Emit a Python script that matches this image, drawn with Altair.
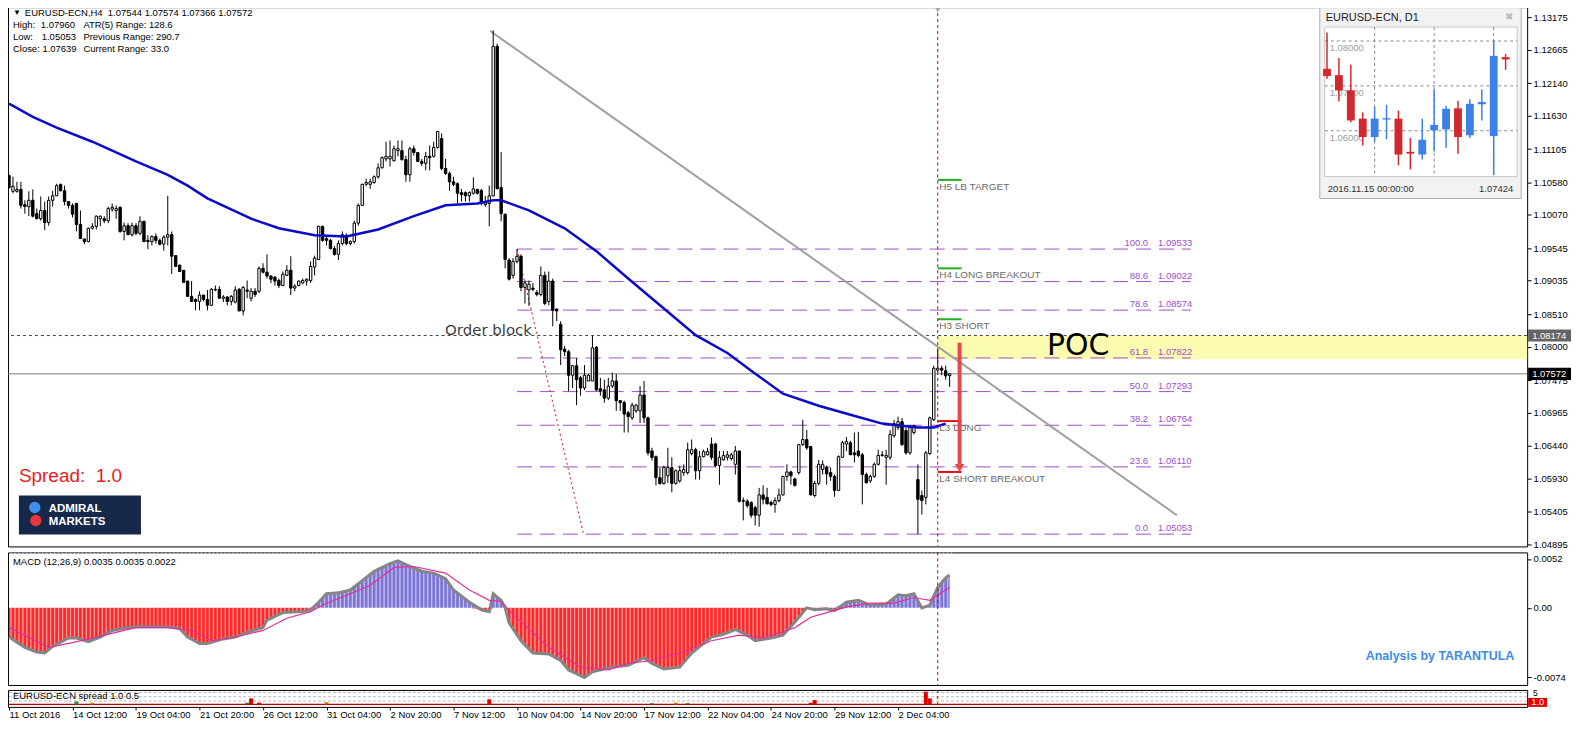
import altair as alt
import pandas as pd

FONT = "Liberation Sans"
NB = "\u00a0"

# ---------------- data ----------------
bar_open = [
1.1069,1.1044,1.1044,1.1047,1.1023,1.1020,1.1030,1.1009,1.1001,1.1014,
1.0995,1.1030,1.1037,1.1055,1.1045,1.1028,1.1022,1.1025,1.0992,1.0969,
1.0965,1.0986,1.0989,1.1001,1.1001,1.0998,1.1016,1.1014,1.1019,1.0981,
1.0990,1.0976,1.0990,1.0978,1.0997,1.0967,1.0965,1.0973,1.0967,1.0961,
1.0972,1.0976,1.0943,1.0928,1.0920,1.0903,1.0879,1.0874,1.0871,1.0881,
1.0874,1.0865,1.0889,1.0890,1.0876,1.0878,1.0871,1.0870,1.0890,1.0856,
1.0889,1.0876,1.0887,1.0887,1.0923,1.0917,1.0911,1.0909,1.0904,1.0896,
1.0912,1.0920,1.0892,1.0896,1.0900,1.0903,1.0904,1.0925,1.0937,1.0989,
1.0970,1.0967,1.0954,1.0945,1.0962,1.0975,1.0962,1.0965,1.0994,1.1022,
1.1055,1.1055,1.1058,1.1067,1.1081,1.1095,1.1095,1.1092,1.1108,1.1108,
1.1094,1.1070,1.1111,1.1105,1.1091,1.1088,1.1099,1.1099,1.1113,1.1127,
1.1080,1.1072,1.1059,1.1056,1.1042,1.1042,1.1037,1.1041,1.1047,1.1045,
1.1023,1.1025,1.1037,1.1272,1.1050,1.1008,1.0936,1.0912,1.0934,1.0942,
1.0893,1.0889,1.0892,1.0885,1.0882,1.0912,1.0871,1.0903,1.0859,1.0835,
1.0796,1.0792,1.0755,1.0770,1.0751,1.0735,1.0746,1.0746,1.0799,1.0734,
1.0732,1.0719,1.0738,1.0746,1.0715,1.0712,1.0696,1.0688,1.0699,1.0699,
1.0724,1.0688,1.0636,1.0627,1.0594,1.0585,1.0597,1.0610,1.0585,1.0589,
1.0602,1.0602,1.0632,1.0638,1.0605,1.0627,1.0630,1.0647,1.0647,1.0613,
1.0622,1.0626,1.0624,1.0615,1.0636,1.0558,1.0557,1.0555,1.0547,1.0535,
1.0567,1.0563,1.0555,1.0552,1.0558,1.0567,1.0596,1.0603,1.0592,1.0602,
1.0646,1.0654,1.0643,1.0566,1.0585,1.0607,1.0610,1.0602,1.0596,1.0574,
1.0626,1.0647,1.0649,1.0633,1.0636,1.0630,1.0599,1.0589,1.0596,1.0615,
1.0629,1.0626,1.0626,1.0660,1.0673,1.0682,1.0668,1.0633,1.0665,1.0591,
1.0566,1.0563,1.0632,1.0685,1.0763,1.0766,1.0762,1.07544]
bar_high = [
1.1070,1.1067,1.1059,1.1059,1.1030,1.1044,1.1047,1.1017,1.1036,1.1028,
1.1036,1.1045,1.1056,1.1056,1.1053,1.1028,1.1025,1.1026,1.1014,1.0970,
1.0987,1.0994,1.1006,1.1006,1.1005,1.1020,1.1025,1.1022,1.1020,1.0995,
1.0994,1.0995,1.0994,1.1005,1.0997,1.0975,1.0975,1.0978,1.0970,1.0975,
1.1037,1.0981,1.0943,1.0929,1.0920,1.0903,1.0903,1.0876,1.0887,1.0881,
1.0889,1.0892,1.0896,1.0895,1.0881,1.0879,1.0881,1.0895,1.0892,1.0895,
1.0904,1.0892,1.0892,1.0926,1.0931,1.0945,1.0912,1.0911,1.0907,1.0918,
1.0928,1.0942,1.0898,1.0904,1.0907,1.0907,1.0934,1.0943,1.0990,1.0990,
1.0972,1.0969,1.0958,1.0967,1.0981,1.0978,1.0967,1.0998,1.1025,1.1056,
1.1064,1.1064,1.1069,1.1088,1.1099,1.1122,1.1124,1.1116,1.1124,1.1124,
1.1100,1.1114,1.1116,1.1106,1.1095,1.1106,1.1116,1.1122,1.1139,1.1135,
1.1095,1.1075,1.1067,1.1058,1.1048,1.1044,1.1044,1.1066,1.1048,1.1048,
1.1037,1.1053,1.1297,1.1276,1.1106,1.1009,1.0939,1.0939,1.09533,1.0945,
1.0904,1.0904,1.0900,1.0889,1.0926,1.0918,1.0918,1.0907,1.0860,1.0840,
1.0801,1.0795,1.0771,1.0782,1.0754,1.0771,1.0757,1.0817,1.0801,1.0751,
1.0748,1.0751,1.0759,1.0757,1.0716,1.0715,1.0699,1.0712,1.0710,1.0738,
1.0746,1.0690,1.0641,1.0629,1.0610,1.0613,1.0641,1.0626,1.0607,1.0613,
1.0615,1.0649,1.0654,1.0641,1.0636,1.0638,1.0641,1.0657,1.0649,1.0636,
1.0636,1.0636,1.0633,1.0644,1.0636,1.0563,1.0560,1.0557,1.0550,1.0578,
1.0582,1.0578,1.0558,1.0563,1.0577,1.0597,1.0615,1.0605,1.0594,1.0647,
1.0685,1.0669,1.0644,1.0589,1.0622,1.0621,1.0613,1.0610,1.0599,1.0629,
1.0652,1.0658,1.0652,1.0665,1.0666,1.0633,1.0602,1.0599,1.0618,1.0638,
1.0636,1.0638,1.0669,1.0685,1.0690,1.0688,1.0673,1.0677,1.0677,1.0615,
1.0574,1.0636,1.0690,1.0770,1.0796,1.0770,1.0770,1.07574]
bar_low = [
1.1048,1.1041,1.1042,1.1017,1.1009,1.1005,1.1003,1.1000,1.0998,1.0983,
1.0990,1.1020,1.1037,1.1044,1.1022,1.1017,1.1003,1.0981,1.0969,1.0961,
1.0964,1.0984,1.0984,1.0989,1.0994,1.0994,1.1012,1.1001,1.0979,1.0967,
1.0975,1.0973,1.0975,1.0975,1.0965,1.0953,1.0959,1.0962,1.0959,1.0951,
1.0959,1.0914,1.0926,1.0918,1.0900,1.0878,1.0870,1.0857,1.0857,1.0871,
1.0857,1.0864,1.0887,1.0876,1.0870,1.0865,1.0865,1.0868,1.0856,1.0849,
1.0876,1.0871,1.0878,1.0884,1.0915,1.0907,1.0900,1.0896,1.0892,1.0895,
1.0911,1.0881,1.0887,1.0895,1.0898,1.0896,1.0900,1.0912,1.0937,1.0965,
1.0959,1.0953,1.0943,1.0936,1.0959,1.0959,1.0959,1.0962,1.0990,1.1022,
1.1052,1.1048,1.1056,1.1064,1.1080,1.1091,1.1083,1.1091,1.1099,1.1092,
1.1059,1.1059,1.1100,1.1091,1.1084,1.1077,1.1077,1.1097,1.1111,1.1077,
1.1070,1.1045,1.1052,1.1025,1.1028,1.1028,1.1028,1.1039,1.1039,1.1022,
1.1020,1.0989,1.1036,1.1048,1.0997,1.0923,1.0904,1.0907,1.0931,1.0887,
1.0868,1.0864,1.0887,1.0879,1.0879,1.0865,1.0865,1.0832,1.0840,1.0771,
1.0785,1.0730,1.0735,1.0708,1.0723,1.0732,1.0746,1.0746,1.0730,1.0723,
1.0712,1.0716,1.0735,1.0699,1.0699,1.0665,1.0665,1.0685,1.0696,1.0680,
1.0680,1.0629,1.0621,1.0582,1.0583,1.0583,1.0586,1.0571,1.0583,1.0586,
1.0597,1.0599,1.0629,1.0591,1.0591,1.0626,1.0629,1.0622,1.0610,1.0583,
1.0621,1.0621,1.0621,1.0599,1.0555,1.0527,1.0547,1.0531,1.0519,1.0517,
1.0552,1.0552,1.0549,1.0539,1.0555,1.0566,1.0589,1.0583,1.0580,1.0599,
1.0644,1.0638,1.0566,1.0563,1.0582,1.0599,1.0583,1.0589,1.0564,1.0574,
1.0626,1.0636,1.0630,1.0618,1.0626,1.0552,1.0585,1.0586,1.0594,1.0613,
1.0627,1.0583,1.0622,1.0657,1.0669,1.0644,1.0630,1.0630,1.0662,1.05053,
1.0536,1.0552,1.0630,1.0683,1.0759,1.0755,1.0748,1.07366]
bar_close = [
1.1050,1.1052,1.1047,1.1022,1.1020,1.1030,1.1005,1.1001,1.1014,1.0995,
1.1030,1.1037,1.1053,1.1045,1.1028,1.1022,1.1008,1.0992,1.0970,1.0965,
1.0986,1.0989,1.1005,1.1005,1.0998,1.1017,1.1019,1.1017,1.0981,1.0990,
1.0976,1.0990,1.0978,1.0997,1.0965,1.0965,1.0973,1.0967,1.0961,1.0972,
1.0976,1.0942,1.0926,1.0918,1.0901,1.0879,1.0871,1.0871,1.0881,1.0874,
1.0865,1.0890,1.0890,1.0876,1.0878,1.0871,1.0879,1.0889,1.0856,1.0893,
1.0887,1.0887,1.0882,1.0923,1.0917,1.0911,1.0906,1.0903,1.0896,1.0914,
1.0920,1.0892,1.0895,1.0903,1.0904,1.0906,1.0926,1.0939,1.0989,1.0967,
1.0967,1.0954,1.0945,1.0962,1.0976,1.0962,1.0965,1.0994,1.1022,1.1055,
1.1058,1.1059,1.1067,1.1081,1.1097,1.1099,1.1099,1.1111,1.1111,1.1094,
1.1070,1.1111,1.1105,1.1091,1.1088,1.1099,1.1097,1.1113,1.1138,1.1080,
1.1072,1.1059,1.1055,1.1041,1.1039,1.1037,1.1042,1.1048,1.1041,1.1025,
1.1026,1.1037,1.1272,1.1048,1.1009,1.0937,1.0906,1.0934,1.0942,1.0893,
1.0900,1.0898,1.0890,1.0882,1.0912,1.0868,1.0903,1.0857,1.0856,1.0795,
1.0792,1.0755,1.0770,1.0748,1.0735,1.0755,1.0755,1.0798,1.0732,1.0730,
1.0719,1.0738,1.0746,1.0715,1.0712,1.0694,1.0690,1.0708,1.0708,1.0724,
1.0688,1.0633,1.0626,1.0594,1.0585,1.0610,1.0610,1.0585,1.0605,1.0605,
1.0607,1.0638,1.0638,1.0605,1.0627,1.0635,1.0635,1.0626,1.0613,1.0626,
1.0629,1.0630,1.0630,1.0636,1.0557,1.0557,1.0550,1.0535,1.0535,1.0567,
1.0560,1.0553,1.0552,1.0558,1.0567,1.0596,1.0603,1.0597,1.0582,1.0646,
1.0654,1.0641,1.0567,1.0585,1.0615,1.0615,1.0600,1.0596,1.0574,1.0627,
1.0649,1.0651,1.0630,1.0630,1.0629,1.0599,1.0586,1.0596,1.0615,1.0629,
1.0630,1.0629,1.0662,1.0679,1.0682,1.0646,1.0633,1.0673,1.0676,1.0560,
1.0558,1.0633,1.0688,1.0766,1.0766,1.0763,1.0754,1.07572]

ema_bar = [0,6,12,21,32,40,45,50,61,68,77,85,93,102,110,118,122,124,131,140,148,156,165,173,181,187,195,204,212,220,229,233,236]
ema_val = [1.1182,1.1161,1.1144,1.1122,1.1091,1.1070,1.1053,1.1033,1.1001,1.0986,1.0975,1.0973,1.0984,1.1005,1.1022,1.1025,1.1030,1.1030,1.1014,1.0986,1.0950,1.0907,1.0860,1.0818,1.0790,1.0762,1.0726,1.0707,1.0693,1.0679,1.0673,1.0673,1.0679]

price_ticks = [1.13175,1.12665,1.12140,1.11630,1.11105,1.10580,1.10070,1.09545,1.09035,1.08510,1.08000,1.07475,1.06965,1.06440,1.05930,1.05405,1.04895]

fib_pct = ["100.0","88.6","78.6","61.8","50.0","38.2","23.6","0.0"]
fib_price = [1.09533,1.09022,1.08574,1.07822,1.07293,1.06764,1.06110,1.05053]
fib_from_bar, fib_to_bar = 128, 297.75

pivot_name = ["H5 LB TARGET","H4 LONG BREAKOUT","H3 SHORT","L3 LONG","L4 SHORT BREAKOUT"]
pivot_price = [1.1062,1.0923,1.0843,1.0683,1.0603]
pivot_color = ["#22b022","#22b022","#22b022","#e01010","#e01010"]
pivot_from_bar, pivot_to_bar = 234, 240

poc_price, poc_low = 1.08174, 1.0780
last_close = 1.07572
marker_bar = 234
trend_bar = [121.25, 294.25]
trend_price = [1.1296, 1.0535]
diag_bar = [128, 144.75]
diag_price = [1.0953, 1.0505]
arrow_bar, arrow_from, arrow_to = 239.5, 1.0806, 1.0609

macd_bar = [0,4,7,9,11,15,17,20,23,26,30,32,36,40,43,45,48,50,54,57,60,64,65,69,74,76,78,80,83,86,89,92,96,98,100,104,107,110,112,116,119,121,122,124,125,126,129,132,136,139,141,145,147,152,156,160,162,165,169,172,177,180,183,186,188,192,195,198,201,203,206,208,211,214,217,221,224,226,228,230,232,234,236,237]
macd_val = [-0.0031,-0.0042,-0.0047,-0.0048,-0.0041,-0.0032,-0.0032,-0.0036,-0.0031,-0.0024,-0.0021,-0.0020,-0.0020,-0.0020,-0.0022,-0.0031,-0.0038,-0.0038,-0.0033,-0.0031,-0.0026,-0.0021,-0.0013,-0.0005,-0.0004,-0.0002,0.0006,0.0015,0.0016,0.0019,0.0029,0.0039,0.0047,0.0050,0.0046,0.0039,0.0037,0.0031,0.0019,0.0006,-0.0002,-0.0004,0.0015,0.0008,0.0000,-0.0016,-0.0035,-0.0048,-0.0049,-0.0056,-0.0066,-0.0074,-0.0068,-0.0063,-0.0061,-0.0053,-0.0059,-0.0065,-0.0063,-0.0048,-0.0031,-0.0028,-0.0023,-0.0029,-0.0035,-0.0032,-0.0029,-0.0015,0.0000,-0.0002,-0.0001,-0.0003,0.0006,0.0008,0.0003,0.0004,0.0014,0.0013,0.0015,0.0000,0.0003,0.0022,0.0032,0.0035]
signal_bar = [0,4,10,16,21,24,28,32,40,46,51,57,64,70,76,79,86,91,97,102,110,116,121,124,126,136,144,151,156,162,169,177,184,190,198,202,206,211,217,223,228,232,237]
signal_val = [-0.0021,-0.0029,-0.0042,-0.0037,-0.0032,-0.0029,-0.0025,-0.0021,-0.0021,-0.0024,-0.0035,-0.0031,-0.0024,-0.0011,-0.0004,0.0003,0.0015,0.0024,0.0043,0.0044,0.0037,0.0019,0.0008,0.0007,-0.0003,-0.0042,-0.0063,-0.0066,-0.0059,-0.0056,-0.0048,-0.0035,-0.0029,-0.0032,-0.0021,-0.0010,-0.0005,0.0001,0.0005,0.0005,0.0011,0.0008,0.0022]
macd_ticks = [0.0052, 0.0, -0.0074]

date_bar = [0,16,32,48,64,80,96,112,128,144,160,176,192,208,224]
date_label = ["11 Oct 2016","14 Oct 12:00","19 Oct 04:00","21 Oct 20:00","26 Oct 12:00","31 Oct 04:00","2 Nov 20:00","7 Nov 12:00","10 Nov 04:00","14 Nov 20:00","17 Nov 12:00","22 Nov 04:00","24 Nov 20:00","29 Nov 12:00","2 Dec 04:00"]

spread_grid = [8.5, 6.0, 3.5]
spread_base = 1.5
spread_bar = [17,21,60,61,63,80,121,162,168,171,202,203,231,232]
spread_top = [3.2,2.5,2.5,5.0,2.5,2.8,4.5,2.2,2.5,2.2,2.5,4.0,9.0,5.0]
spread_col = ["#2e8b2e","#c08000","#2e8b2e","#e00000","#e00000","#c08000","#e00000","#2e8b2e","#c08000","#2e8b2e","#e00000","#e00000","#e00000","#e00000"]

d1_open = [1.0738,1.0724,1.0690,1.0627,1.0586,1.0625,1.0627,1.0553,1.0547,1.0601,1.0603,1.0650,1.0590,1.0659,1.0588,1.0764]
d1_high = [1.0819,1.0762,1.0747,1.0641,1.0653,1.0658,1.0645,1.0584,1.0627,1.0692,1.0655,1.0667,1.0670,1.0692,1.0801,1.0771]
d1_low = [1.0716,1.0665,1.0619,1.0567,1.0576,1.0581,1.0523,1.0514,1.0536,1.0554,1.0562,1.0549,1.0584,1.0623,1.0501,1.0736]
d1_close = [1.0722,1.0690,1.0623,1.0586,1.0627,1.0628,1.0547,1.0549,1.0580,1.0613,1.0649,1.0586,1.0660,1.0664,1.0767,1.0759]
d1_grid_price = [1.08, 1.07, 1.06]
d1_grid_label = ["1.08000", "1.07000", "1.06000"]
d1_grid_bar = [4, 9, 14]

# ---------------- layout ----------------
W = 1524
H_MAIN = 541
H_MACD = 133
H_SPR = 17


def px(x):
    return (x - 4) * W / 1531.0


def py(y):
    return y - 8.0


ONE = pd.DataFrame({"a": [0]})


def label(t, x, y, size=9.5, color="black", align="left", baseline="middle",
          weight="normal", font=FONT):
    return alt.Chart(ONE).mark_text(text=t, align=align, baseline=baseline, fontSize=size,
                                    color=color, fontWeight=weight, font=font).encode(
        x=alt.value(x), y=alt.value(y))


def box(x1, x2, y1, y2, fill, stroke=None, sw=1.0):
    kw = {"fill": fill}
    if stroke is not None:
        kw.update(stroke=stroke, strokeWidth=sw)
    return alt.Chart(ONE).mark_rect(**kw).encode(
        x=alt.value(x1), x2=alt.value(x2), y=alt.value(y1), y2=alt.value(y2))


xs = alt.Scale(domain=[-0.25, 382.5], nice=False, zero=False)
ys = alt.Scale(domain=[1.0486, 1.13335], nice=False, zero=False)
yax = alt.Axis(orient="right", values=price_ticks, format=".5f", labelFont=FONT, labelFontSize=9.5,
               labelColor="black", tickColor="black", tickSize=4, domain=False, grid=False,
               title=None, labelPadding=2, labelOverlap=False, labelFlush=False)
X = lambda f: alt.X(f, type="quantitative", scale=xs, axis=None)
Y = lambda f: alt.Y(f, type="quantitative", scale=ys, axis=yax)

cdf = pd.DataFrame({"i": range(len(bar_open)), "o": bar_open, "h": bar_high, "l": bar_low, "c": bar_close})
cdf["x1"] = cdf["i"] - 0.3
cdf["x2"] = cdf["i"] + 0.3
cdf["b1"] = cdf[["o", "c"]].min(axis=1)
cdf["b2"] = cdf[["o", "c"]].max(axis=1)

band = alt.Chart(pd.DataFrame({"x1": [marker_bar], "x2": [382.5], "y1": [poc_low], "y2": [poc_price]})).mark_rect(
    fill="#fcfca8", opacity=0.9).encode(x=X("x1"), x2="x2", y=Y("y1"), y2="y2")
poc_line = alt.Chart(pd.DataFrame({"p": [poc_price]})).mark_rule(color="#404040", strokeDash=[3, 3]).encode(y=Y("p"))
close_line = alt.Chart(pd.DataFrame({"p": [last_close]})).mark_rule(color="#7c7c7c").encode(y=Y("p"))

fdf = pd.DataFrame({"pct": fib_pct, "p": fib_price, "x1": fib_from_bar, "x2": fib_to_bar,
                    "lx1": 287.0, "lx2": 289.5})
fib_lines = alt.Chart(fdf).mark_rule(color="#9e4fc9", strokeDash=[15, 8], strokeWidth=1).encode(
    x=X("x1"), x2="x2", y=Y("p"))
fib_t1 = alt.Chart(fdf).mark_text(align="right", baseline="bottom", dy=-1, fontSize=9.5, font=FONT,
                                  color="#9e4fc9").encode(x=X("lx1"), y=Y("p"), text="pct:N")
fib_t2 = alt.Chart(fdf).mark_text(align="left", baseline="bottom", dy=-1, fontSize=9.5, font=FONT,
                                  color="#9e4fc9").encode(x=X("lx2"), y=Y("p"), text=alt.Text("p:Q", format=".5f"))

trend = alt.Chart(pd.DataFrame({"i": trend_bar, "p": trend_price})).mark_line(
    color="#a0a0a0", strokeWidth=2).encode(x=X("i"), y=Y("p"))
diag = alt.Chart(pd.DataFrame({"i": diag_bar, "p": diag_price})).mark_line(
    color="#c01818", strokeWidth=1, strokeDash=[2, 3]).encode(x=X("i"), y=Y("p"))

wicks = alt.Chart(cdf).mark_rule(color="black", strokeWidth=1).encode(x=X("i"), y=Y("l"), y2="h")
bodies = alt.Chart(cdf).mark_rect(stroke="black", strokeWidth=1).encode(
    x=X("x1"), x2="x2", y=Y("b1"), y2="b2",
    fill=alt.condition("datum.c >= datum.o", alt.value("white"), alt.value("black")))

ema = alt.Chart(pd.DataFrame({"i": ema_bar, "p": ema_val})).mark_line(
    color="#0a0ac8", strokeWidth=2.5).encode(x=X("i"), y=Y("p"))

pdf = pd.DataFrame({"name": pivot_name, "p": pivot_price, "col": pivot_color,
                    "x1": pivot_from_bar, "x2": pivot_to_bar, "tx": pivot_from_bar + 0.4})
piv_lines = alt.Chart(pdf).mark_rule(strokeWidth=2).encode(
    x=X("x1"), x2="x2", y=Y("p"), color=alt.Color("col:N", scale=None))
piv_text = alt.Chart(pdf).mark_text(align="left", baseline="top", dy=2, fontSize=10, font=FONT,
                                    color="#6a6a6a").encode(x=X("tx"), y=Y("p"), text="name:N")

vline = alt.Chart(pd.DataFrame({"i": [marker_bar]})).mark_rule(
    color="#c00000", strokeDash=[3, 3]).encode(x=X("i"))
top_marker = alt.Chart(pd.DataFrame({"i": [marker_bar]})).mark_point(
    shape="triangle-down", filled=True, color="#a8a8a8", size=30, opacity=1).encode(x=X("i"), y=alt.value(3))

arrow = alt.Chart(pd.DataFrame({"i": [arrow_bar], "p1": [arrow_from], "p2": [arrow_to]})).mark_rule(
    color="#e84848", strokeWidth=4).encode(x=X("i"), y=Y("p1"), y2="p2")
arrow_head = alt.Chart(pd.DataFrame({"i": [arrow_bar], "p": [arrow_to]})).mark_point(
    shape="triangle-down", filled=True, color="#e84848", size=90, opacity=1).encode(x=X("i"), y=Y("p"))

poc_text = alt.Chart(pd.DataFrame({"i": [261.5], "p": [1.0801], "t": ["POC"]})).mark_text(
    align="left", baseline="middle", fontSize=30, font="DejaVu Sans", color="black").encode(
    x=X("i"), y=Y("p"), text="t:N")
ob_text = alt.Chart(pd.DataFrame({"i": [131.75], "p": [poc_price], "t": ["Order block"]})).mark_text(
    align="right", baseline="alphabetic", dy=-1, fontSize=15, font="DejaVu Sans", color="#404040").encode(
    x=X("i"), y=Y("p"), text="t:N")

adf = pd.DataFrame({"p": [poc_price, last_close], "fill": ["#646464", "#000000"]})
adf["y1"] = adf["p"] - 0.00095
adf["y2"] = adf["p"] + 0.00095
ax_boxes = alt.Chart(adf).mark_rect().encode(
    x=alt.value(W + 1), x2=alt.value(W + 44), y=Y("y1"), y2="y2", fill=alt.Color("fill:N", scale=None))
ax_box_text = alt.Chart(adf).mark_text(align="left", baseline="middle", fontSize=9.5, font=FONT,
                                       color="white").encode(
    x=alt.value(W + 5), y=Y("p"), text=alt.Text("p:Q", format=".5f"))

header = [
    label("\u25bc", px(9), py(14), size=8),
    label("EURUSD-ECN,H4" + NB + NB + "1.07544 1.07574 1.07366 1.07572", px(21), py(14)),
    label("High:", px(9), py(26)), label("1.07960", px(37), py(26)),
    label("ATR(5) Range: 128.6", px(80), py(26)),
    label("Low:", px(9), py(38)), label("1.05053", px(38), py(38)),
    label("Previous Range: 290.7", px(80), py(38)),
    label("Close: 1.07639", px(9), py(50)),
    label("Current Range: 33.0", px(80), py(50)),
]

spread_txt = label("Spread:" + NB + NB + "1.0", px(15), py(478), size=19, color="#ec1c1c")
logo = [
    box(px(15), px(138), py(498), py(537), "#17294a"),
    alt.Chart(ONE).mark_point(shape="circle", filled=True, color="#3d8fe8", size=130, opacity=1).encode(
        x=alt.value(px(31)), y=alt.value(py(510))),
    alt.Chart(ONE).mark_point(shape="circle", filled=True, color="#e8343a", size=130, opacity=1).encode(
        x=alt.value(px(32)), y=alt.value(py(523))),
    label("ADMIRAL", px(45), py(511), size=11.5, color="white", weight="bold"),
    label("MARKETS", px(45), py(525), size=11.5, color="white", weight="bold"),
]

main_group = alt.layer(
    band, poc_line, close_line, fib_lines, fib_t1, fib_t2, trend, diag, wicks, bodies, ema,
    piv_lines, piv_text, vline, top_marker, arrow, arrow_head, poc_text, ob_text,
    ax_boxes, ax_box_text, *header, spread_txt, *logo)

# ---- D1 inset ----
ins_x = alt.Scale(domain=[0, 15], range=[px(1333.3), px(1513.3)], nice=False, zero=False)
ins_y = alt.Scale(domain=[1.04978, 1.08311], range=[py(178), py(28)], nice=False, zero=False)
IX = lambda f: alt.X(f, type="quantitative", scale=ins_x, axis=None)
IY = lambda f: alt.Y(f, type="quantitative", scale=ins_y, axis=None)

ddf = pd.DataFrame({"k": range(len(d1_open)), "o": d1_open, "h": d1_high, "l": d1_low, "c": d1_close})
ddf["x1"] = ddf["k"] - 0.33
ddf["x2"] = ddf["k"] + 0.33
ddf["col"] = ["#3c80e8" if c >= o else "#d0282c" for o, c in zip(d1_open, d1_close)]
gdf = pd.DataFrame({"p": d1_grid_price, "t": d1_grid_label})
vgdf = pd.DataFrame({"k": d1_grid_bar})

inset_group = alt.layer(
    box(px(1326), px(1529), 0.5, py(200), "#f2f2f2", "#b0b0b0"),
    box(px(1331), px(1525), py(28), py(178), "white", "#c8c8c8"),
    label("EURUSD-ECN, D1", px(1332), py(19), size=11, color="#202020"),
    label("\u2716", px(1517), py(18), size=10, color="#b8b8b8", align="center"),
    alt.Chart(gdf).mark_rule(color="#8a8a8a", strokeDash=[3, 3]).encode(
        x=alt.value(px(1331)), x2=alt.value(px(1525)), y=IY("p")),
    alt.Chart(vgdf).mark_rule(color="#8a8a8a", strokeDash=[3, 3]).encode(
        x=IX("k"), y=alt.value(py(28)), y2=alt.value(py(178))),
    alt.Chart(gdf).mark_text(align="left", baseline="top", dy=2, fontSize=9.5, font=FONT,
                             color="#a0a0a0").encode(x=alt.value(px(1336)), y=IY("p"), text="t:N"),
    alt.Chart(ddf).mark_rule(strokeWidth=1.5).encode(
        x=IX("k"), y=IY("l"), y2="h", color=alt.Color("col:N", scale=None)),
    alt.Chart(ddf).mark_rect().encode(
        x=IX("x1"), x2="x2", y=IY("o"), y2="c", fill=alt.Color("col:N", scale=None)),
    label("2016.11.15 00:00:00", px(1334), py(190), size=9.5, color="#303030"),
    label("1.07424", px(1521), py(190), size=9.5, color="#303030", align="right"),
)

main_panel = alt.layer(main_group, inset_group).resolve_scale(
    x="independent", y="independent").properties(width=W, height=H_MAIN)

# ---------------- MACD panel ----------------
ym = alt.Scale(domain=[-0.0082, 0.0059], nice=False, zero=False)
yax_m = alt.Axis(orient="right", values=macd_ticks,
                 labelExpr="datum.value == 0 ? '0.00' : replace(format(datum.value, '.4f'), '\u2212', '-')",
                 labelFont=FONT, labelFontSize=9.5, labelColor="black", tickColor="black", tickSize=4,
                 domain=False, grid=False, title=None, labelPadding=2, labelOverlap=False, labelFlush=False)
YM = lambda f: alt.Y(f, type="quantitative", scale=ym, axis=yax_m)

mdf = pd.DataFrame({"i": macd_bar, "v": macd_val})
mdf["neg"] = mdf["v"].clip(upper=0)
mdf["pos"] = mdf["v"].clip(lower=0)
sdf = pd.DataFrame({"i": signal_bar, "v": signal_val})
stripes = pd.DataFrame({"i": [k + 0.5 for k in range(len(bar_open))]})

macd_panel = alt.layer(
    alt.Chart(mdf).mark_area(color="#ff1010", opacity=0.9).encode(x=X("i"), y=YM("neg"), y2=alt.datum(0)),
    alt.Chart(mdf).mark_area(color="#6e66d2", opacity=0.9).encode(x=X("i"), y=YM("pos"), y2=alt.datum(0)),
    alt.Chart(stripes).mark_rule(color="white", strokeWidth=1.3, opacity=0.55).encode(x=X("i")),
    alt.Chart(mdf).mark_line(color="#858585", strokeWidth=3).encode(x=X("i"), y=YM("v")),
    alt.Chart(sdf).mark_line(color="#e0309a", strokeWidth=1.2).encode(x=X("i"), y=YM("v")),
    alt.Chart(pd.DataFrame({"i": [marker_bar]})).mark_rule(color="#c00000", strokeDash=[3, 3]).encode(x=X("i")),
    label("MACD (12,26,9) 0.0035 0.0035 0.0022", px(9), 10),
    label("Analysis by TARANTULA", px(1522), 104, size=12.5, color="#3a8ee6", weight="bold", align="right"),
).properties(width=W, height=H_MACD)

# ---------------- spread panel + time axis ----------------
ysp = alt.Scale(domain=[0, 10], nice=False, zero=False)
xax_date = alt.Axis(values=date_bar,
                    labelExpr="[" + ",".join("'%s'" % s for s in date_label) + "][round(datum.value / 16)]",
                    orient="bottom", labelAlign="left", labelBaseline="top", labelPadding=0, tickSize=3,
                    tickColor="black", domain=False, grid=False, title=None, labelFont=FONT,
                    labelFontSize=9.5, labelColor="black", labelOverlap=False, labelFlush=False)
XD = lambda f: alt.X(f, type="quantitative", scale=xs, axis=xax_date)
YS = lambda f: alt.Y(f, type="quantitative", scale=ysp, axis=None)

spdf = pd.DataFrame({"i": spread_bar, "top": spread_top, "col": spread_col})
spdf["x1"] = spdf["i"] - 0.5
spdf["x2"] = spdf["i"] + 0.5
spdf["base"] = spread_base

spread_panel = alt.layer(
    alt.Chart(pd.DataFrame({"v": spread_grid})).mark_rule(color="#b8b8b8", strokeDash=[3, 2]).encode(y=YS("v")),
    alt.Chart(pd.DataFrame({"v": [spread_base]})).mark_rule(color="#b00000", strokeWidth=1.2).encode(y=YS("v")),
    alt.Chart(spdf).mark_rect().encode(x=XD("x1"), x2="x2", y=YS("base"), y2="top",
                                       fill=alt.Color("col:N", scale=None)),
    alt.Chart(pd.DataFrame({"i": [marker_bar]})).mark_rule(color="#c00000", strokeDash=[3, 3]).encode(x=XD("i")),
    label("EURUSD-ECN spread 1.0 0.5", px(9), 6),
    label("5", W + 6, 3, size=8.5),
    box(W + 1, W + 20, 8, 17, "#e00000"),
    label("1.0", W + 4, 12.5, size=9.5, color="white"),
).properties(width=W, height=H_SPR)

chart = alt.vconcat(main_panel, macd_panel, spread_panel, spacing=1).properties(
    padding={"left": -6, "top": -3, "right": 0, "bottom": 0}, background="white"
).configure_view(stroke="black", strokeWidth=1)

chart.save("out.html", embed_options={"renderer": "svg", "actions": False})
